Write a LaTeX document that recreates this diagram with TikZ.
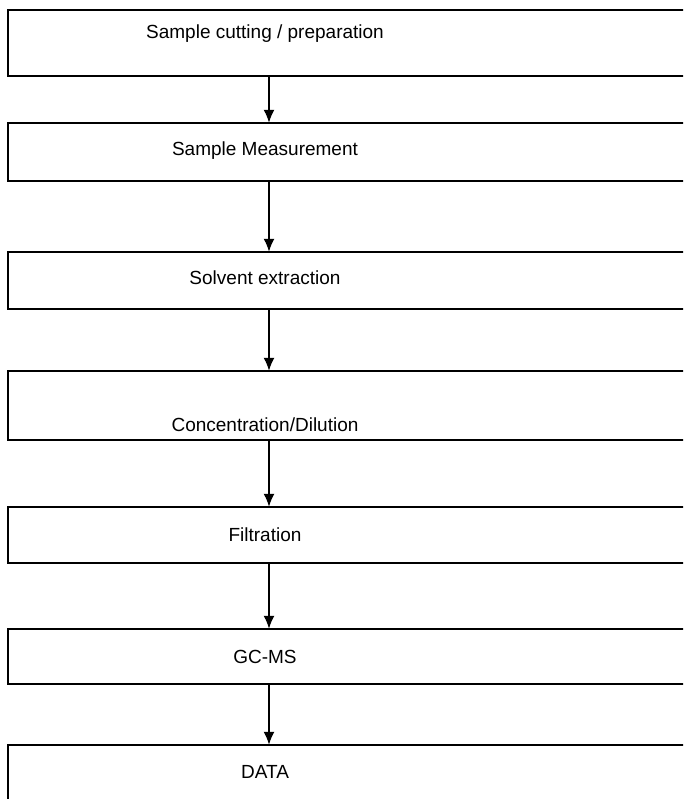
\documentclass[tikz,border=0pt]{standalone}
\usepackage{fontspec}
\setmainfont{Liberation Sans}
\usepackage{tikz}
\usetikzlibrary{arrows.meta}

\begin{document}
\begin{tikzpicture}[
				x=1pt, y=-1pt,
				% 流程框与箭头的统一样式
				stepbox/.style={anchor=base, inner xsep=0pt, inner ysep=0pt,
					minimum width=514pt, font=\fontsize{19}{22}\selectfont},
				frame/.style={line width=1.6pt},
				flow/.style={-{Latex[length=13pt,width=11pt]}, line width=1.6pt}
				]
				
				% ----- 1. 画布范围 -----
				\useasboundingbox (0,0) rectangle (683,799);
				\clip (0,0) rectangle (683,799);
				
				% ----- 2. 各步骤 -----
				\node[stepbox, text height=29pt, text depth=37pt] (b1) at (265,39) {Sample cutting / preparation};
				\node[stepbox, text height=33pt, text depth=25pt] (b2) at (265,156) {Sample Measurement};
				\node[stepbox, text height=32pt, text depth=25pt] (b3) at (265,284) {Solvent extraction};
				\node[stepbox, text height=60pt, text depth=9pt] (b4) at (265,431) {Concentration/Dilution};
				\node[stepbox, text height=34pt, text depth=22pt] (b5) at (265,541) {Filtration};
				\node[stepbox, text height=34pt, text depth=21pt] (b6) at (265,663) {GC-MS};
				\node[stepbox, text height=33pt, text depth=40pt] (b7) at (265,778) {DATA};
				
				% ----- 3. 方框（右侧超出画面） -----
				\foreach \n in {b1,b2,b3,b4,b5,b6,b7}
				\draw[frame] ([xshift=700pt]\n.north west) -- (\n.north west) -- (\n.south west) -- ([xshift=700pt]\n.south west);
				
				% ----- 4. 箭头 -----
				\foreach \a/\b in {b1/b2,b2/b3,b3/b4,b4/b5,b5/b6,b6/b7}
				\draw[flow] ([xshift=4pt]\a.south) -- ([xshift=4pt]\b.north);
				
			\end{tikzpicture}
\end{document}
